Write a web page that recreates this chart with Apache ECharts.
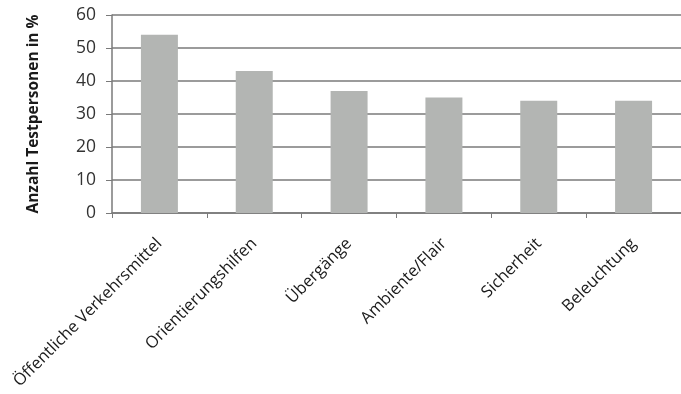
<!DOCTYPE html>
<html>
<head>
<meta charset="utf-8">
<script src="https://cdn.jsdelivr.net/npm/echarts@6/dist/echarts.min.js"></script>
<style>
  html, body { margin: 0; padding: 0; background: #fff; }
  #chart { width: 681px; height: 394px; }
</style>
</head>
<body>
<div id="chart"></div>
<script>
const categories = ['Öffentliche Verkehrsmittel', 'Orientierungshilfen', 'Übergänge', 'Ambiente/Flair', 'Sicherheit', 'Beleuchtung'];
const values = [54, 43, 37, 35, 34, 34];
const yName = 'Anzahl Testpersonen in %';

const chart = echarts.init(document.getElementById('chart'));
chart.setOption({
  animation: false,
  grid: { left: 112, right: -1, top: 15, bottom: 181, containLabel: false },
  xAxis: {
    type: 'category',
    data: categories,
    axisLine: { lineStyle: { color: '#7a7a7a', width: 1.5 } },
    axisTick: { show: true, length: 5, alignWithLabel: false, lineStyle: { color: '#7a7a7a' } },
    axisLabel: {
      rotate: 45, margin: 28, interval: 0,
      fontFamily: 'Open Sans', fontSize: 16.5, color: '#1a1a1a'
    }
  },
  yAxis: {
    type: 'value',
    min: 0, max: 60, interval: 10,
    name: yName,
    nameLocation: 'middle',
    nameGap: 70,
    nameTextStyle: { fontFamily: 'Open Sans', fontWeight: 'bold', fontSize: 15.5, color: '#1a1a1a' },
    axisLine: { show: true, lineStyle: { color: '#7a7a7a', width: 1.5 } },
    axisTick: { show: true, length: 6, lineStyle: { color: '#7a7a7a' } },
    axisLabel: { margin: 16, fontFamily: 'Open Sans', fontSize: 17.5, color: '#333' },
    splitLine: { lineStyle: { color: '#7a7a7a', width: 1.5 } }
  },
  series: [{
    type: 'bar',
    data: values,
    barWidth: '39%',
    itemStyle: { color: '#b3b5b3' }
  }]
});
</script>
</body>
</html>
